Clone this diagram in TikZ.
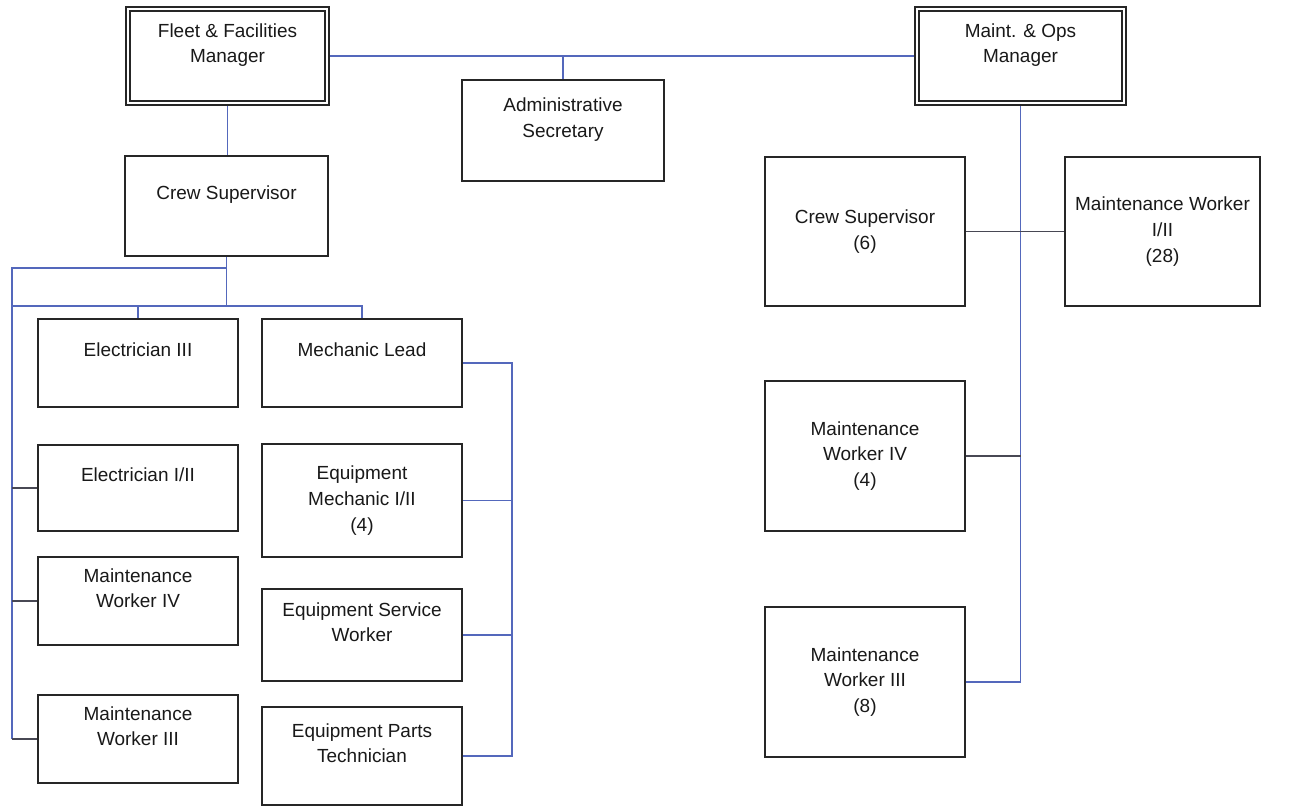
\documentclass[tikz,border=0pt]{standalone}
\usepackage{fontspec}
\setmainfont{Liberation Sans}
\usetikzlibrary{backgrounds}
\definecolor{linkblue}{RGB}{84,104,188}
\definecolor{stubgray}{RGB}{72,72,84}
\newcommand{\tailline}{\\\mbox{}}
\tikzset{
  box/.style={draw=black!85, line width=1pt, fill=white, align=center,
    text=black!90, inner sep=2pt, minimum width=4cm, minimum height=1.76cm,
    font=\fontsize{10.8}{14.7}\selectfont},
  mgr/.style={box, double, double distance=1.6pt, line width=0.9pt},
  link/.style={draw=linkblue, line width=1pt},
  stub/.style={draw=stubgray, line width=1pt}
}
\begin{document}
\begin{tikzpicture}[x=0.02cm, y=-0.02cm]
  \useasboundingbox (0,0) rectangle (1298,807);

  % managers and secretary
  \node[mgr, minimum width=3.98cm, minimum height=1.88cm] (fleet) at (227.5,56)
    {Fleet \& Facilities\\Manager\tailline};
  \node[mgr, minimum width=4.14cm, minimum height=1.88cm] (maint) at (1020.5,56)
    {Maint. \& Ops\\Manager\tailline};
  \node[box, minimum width=4.04cm, minimum height=2.02cm] (admin) at (563,130.5)
    {Administrative\\Secretary\tailline};

  % fleet side
  \node[box, minimum width=4.06cm, minimum height=2cm] (crewL) at (226.5,206)
    {Crew Supervisor\tailline};
  \node[box] (elecIII) at (138,363) {Electrician III\tailline};
  \node[box, minimum height=1.72cm] (elecI) at (138,488) {Electrician I/II\tailline};
  \node[box] (mwIVl) at (138,601) {Maintenance\\Worker IV\tailline};
  \node[box] (mwIIIl) at (138,739) {Maintenance\\Worker III\tailline};
  \node[box] (mechlead) at (362,363) {Mechanic Lead\tailline};
  \node[box, minimum height=2.26cm] (eqmech) at (362,500.5)
    {Equipment\\Mechanic I/II\\(4)};
  \node[box, minimum height=1.84cm] (eqserv) at (362,635)
    {Equipment Service\\Worker\tailline};
  \node[box, minimum height=1.96cm] (eqparts) at (362,756)
    {Equipment Parts\\Technician\tailline};

  % maintenance side
  \node[box, minimum height=2.98cm] (crew6) at (865,231.5) {Crew Supervisor\\(6)};
  \node[box, minimum width=3.9cm, minimum height=2.98cm] (mw28) at (1162.5,231.5)
    {Maintenance Worker\\I/II\\(28)};
  \node[box, minimum height=3cm] (mwIV4) at (865,456) {Maintenance\\Worker IV\\(4)};
  \node[box, minimum height=3cm] (mwIII8) at (865,682) {Maintenance\\Worker III\\(8)};

  \coordinate (lbar) at (12,268);
  \coordinate (rowtop) at (12,306);
  \coordinate (mbar) at (512,363);

  \begin{scope}[on background layer]
    % top row
    \draw[link] (fleet.east) -- (maint.west);
    \draw[link] (admin.north) -- (admin.north |- fleet.east);
    \draw[link] (fleet.south) -- (fleet.south |- crewL.north);
    % under the crew supervisor
    \draw[link] (crewL.south) -- (crewL.south |- rowtop);
    \draw[link] (crewL.south |- lbar) -- (lbar) -- (lbar |- mwIIIl.west);
    \draw[stub] (mwIIIl.west) -- (mwIIIl.west -| lbar);
    \draw[stub] (mwIVl.west) -- (mwIVl.west -| lbar);
    \draw[stub] (elecI.west) -- (elecI.west -| lbar);
    \draw[link] (rowtop) -- (rowtop -| mechlead.north) -- (mechlead.north);
    \draw[link] (elecIII.north) -- (elecIII.north |- rowtop);
    % equipment bracket
    \draw[link] (mechlead.east) -- (mbar) -- (mbar |- eqparts.east) -- (eqparts.east);
    \draw[link] (eqmech.east) -- (eqmech.east -| mbar);
    \draw[link] (eqserv.east) -- (eqserv.east -| mbar);
    % maint. & ops spine
    \draw[link] (maint.south) -- (maint.south |- mwIII8.east) -- (mwIII8.east);
    \draw[stub] (crew6.east) -- (mw28.west);
    \draw[stub] (mwIV4.east) -- (mwIV4.east -| maint.south);
  \end{scope}
\end{tikzpicture}
\end{document}
